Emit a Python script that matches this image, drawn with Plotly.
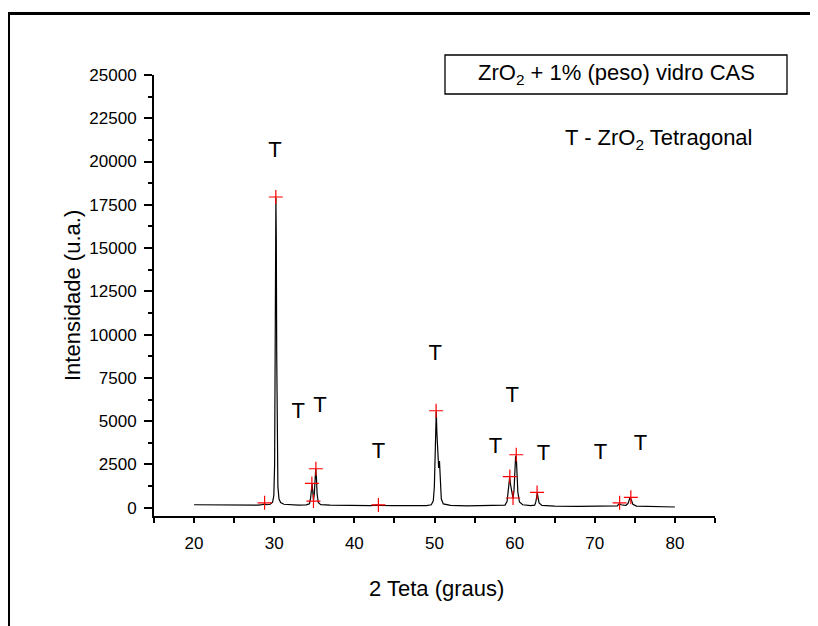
import plotly.graph_objects as go

# XRD pattern, ZrO2 + 1% CAS glass (2-theta in degrees, intensity in a.u.)
two_theta = [20.0, 21.0, 22.0, 23.0, 24.0, 25.0, 26.0, 27.0, 28.0, 28.5, 28.8, 29.1,
             29.5, 29.8, 29.95, 30.05, 30.12, 30.17, 30.21, 30.26, 30.31, 30.38, 30.46,
             30.6, 30.8, 31.2, 32.0, 33.0, 34.0, 34.4, 34.55, 34.65, 34.72, 34.8, 34.9,
             35.0, 35.1, 35.18, 35.27, 35.35, 35.5, 35.8, 37.0, 38.0, 40.0, 42.0, 42.9,
             43.2, 45.0, 47.0, 49.0, 49.6, 49.85, 49.98, 50.08, 50.16, 50.22, 50.3,
             50.42, 50.52, 50.62, 50.72, 50.85, 51.1, 52.0, 54.0, 56.0, 58.0, 58.8,
             59.05, 59.2, 59.32, 59.38, 59.5, 59.68, 59.8, 59.92, 60.02, 60.12, 60.2,
             60.28, 60.4, 60.6, 61.0, 62.0, 62.5, 62.65, 62.75, 62.83, 62.92, 63.05,
             63.4, 65.0, 68.0, 70.0, 72.0, 72.8, 73.05, 73.3, 73.6, 73.9, 74.15, 74.38,
             74.55, 74.75, 75.2, 77.0, 80.0]
intensity = [170, 165, 172, 160, 165, 158, 150, 155, 150, 175, 210, 170,
             200, 320, 700, 2500, 7500, 14000, 17900, 15500, 9000, 3500, 1200,
             500, 300, 200, 160, 150, 160, 220, 600, 1200, 1400, 1000, 420,
             800, 1700, 2250, 1700, 800, 300, 180, 150, 140, 130, 120, 150,
             130, 115, 120, 125, 170, 400, 1200, 3200, 5000, 5550, 4300,
             2500, 2300, 2700, 1500, 500, 220, 130, 110, 110, 115, 150,
             350, 900, 1600, 1750, 1300, 650, 540, 1000, 2100, 2950, 3000,
             2200, 900, 330, 170, 120, 150, 350, 750, 850, 600, 280,
             130, 90, 80, 75, 70, 100, 230, 170, 150, 140, 250, 560,
             470, 200, 90, 60, 40]

# peaks picked (red crosses)
peak_x = [28.8, 30.2, 34.7, 34.9, 35.2, 43.0, 50.2, 59.4, 59.8, 60.2, 62.8, 73.1, 74.5]
peak_y = [280, 17950, 1400, 380, 2250, 160, 5600, 1800, 560, 3060, 880, 280, 600]

# "T" phase labels
t_x = [30.1, 33.0, 35.7, 43.0, 50.1, 57.6, 59.7, 63.6, 70.7, 75.7]
t_y = [20600, 5480, 5830, 3180, 8830, 3460, 6410, 3060, 3120, 3640]

FONT = "Liberation Sans, Arial, sans-serif"

fig = go.Figure()

fig.add_trace(go.Scatter(
    x=two_theta, y=intensity, mode='lines',
    line=dict(color='black', width=1.2), showlegend=False
))
fig.add_trace(go.Scatter(
    x=peak_x, y=peak_y, mode='markers',
    marker=dict(symbol='cross-thin', size=10, line=dict(color='red', width=1.2)),
    showlegend=False
))
fig.add_trace(go.Scatter(
    x=t_x, y=t_y, mode='text', text=['T'] * len(t_x),
    textfont=dict(family=FONT, size=22, color='black'), showlegend=False
))

# the page adds an 8px body margin; plot area on the page: x 154..715, y 75..516
def px(x):
    return (x - 154) / 561

def py(y):
    return (516 - y) / 441

fig.update_layout(
    width=810, height=618,
    margin=dict(l=146, r=103, t=67, b=110),
    paper_bgcolor='white', plot_bgcolor='white',
    font=dict(family=FONT, color='black'),
    shapes=[
        # outer frame (right and bottom sides fall outside the page)
        dict(type='rect', xref='paper', yref='paper',
             x0=px(8.5), x1=px(840), y0=py(660), y1=py(13.5),
             line=dict(color='black', width=3)),
        # legend box
        dict(type='rect', xref='paper', yref='paper',
             x0=px(445), x1=px(787), y0=py(94), y1=py(55),
             line=dict(color='black', width=1.3)),
    ],
    annotations=[
        dict(text="ZrO<sub>2</sub> + 1% (peso) vidro CAS", xref='paper', yref='paper',
             x=px(616), y=py(74), xanchor='center', yanchor='middle', showarrow=False,
             font=dict(size=22)),
        dict(text="T - ZrO<sub>2</sub> Tetragonal", xref='paper', yref='paper',
             x=px(658), y=py(139), xanchor='center', yanchor='middle', showarrow=False,
             font=dict(size=22)),
        dict(text="2 Teta (graus)", xref='paper', yref='paper',
             x=px(436), y=py(588), xanchor='center', yanchor='middle', showarrow=False,
             font=dict(size=22)),
        dict(text="Intensidade (u.a.)", xref='paper', yref='paper', textangle=-90,
             x=px(72), y=py(296), xanchor='center', yanchor='middle', showarrow=False,
             font=dict(size=22)),
    ]
)

fig.update_xaxes(
    range=[15, 85], tickmode='linear', tick0=0, dtick=10,
    showline=True, linecolor='black', linewidth=2, mirror=False,
    ticks='outside', ticklen=5, tickwidth=1.5, tickcolor='black',
    minor=dict(ticks='outside', ticklen=5, tickwidth=1.5, tickcolor='black',
               dtick=5, showgrid=False),
    tickfont=dict(size=17), showgrid=False, zeroline=False,
    ticklabelstandoff=6
)
fig.update_yaxes(
    range=[-480, 25000], tickmode='linear', tick0=0, dtick=2500, tickformat='d',
    showline=True, linecolor='black', linewidth=2, mirror=False,
    ticks='outside', ticklen=8, tickwidth=1.5, tickcolor='black',
    minor=dict(ticks='outside', ticklen=4, tickwidth=1.5, tickcolor='black',
               dtick=1250, showgrid=False),
    tickfont=dict(size=17), showgrid=False, zeroline=False,
    ticklabelstandoff=4
)

fig.write_html("out.html")
